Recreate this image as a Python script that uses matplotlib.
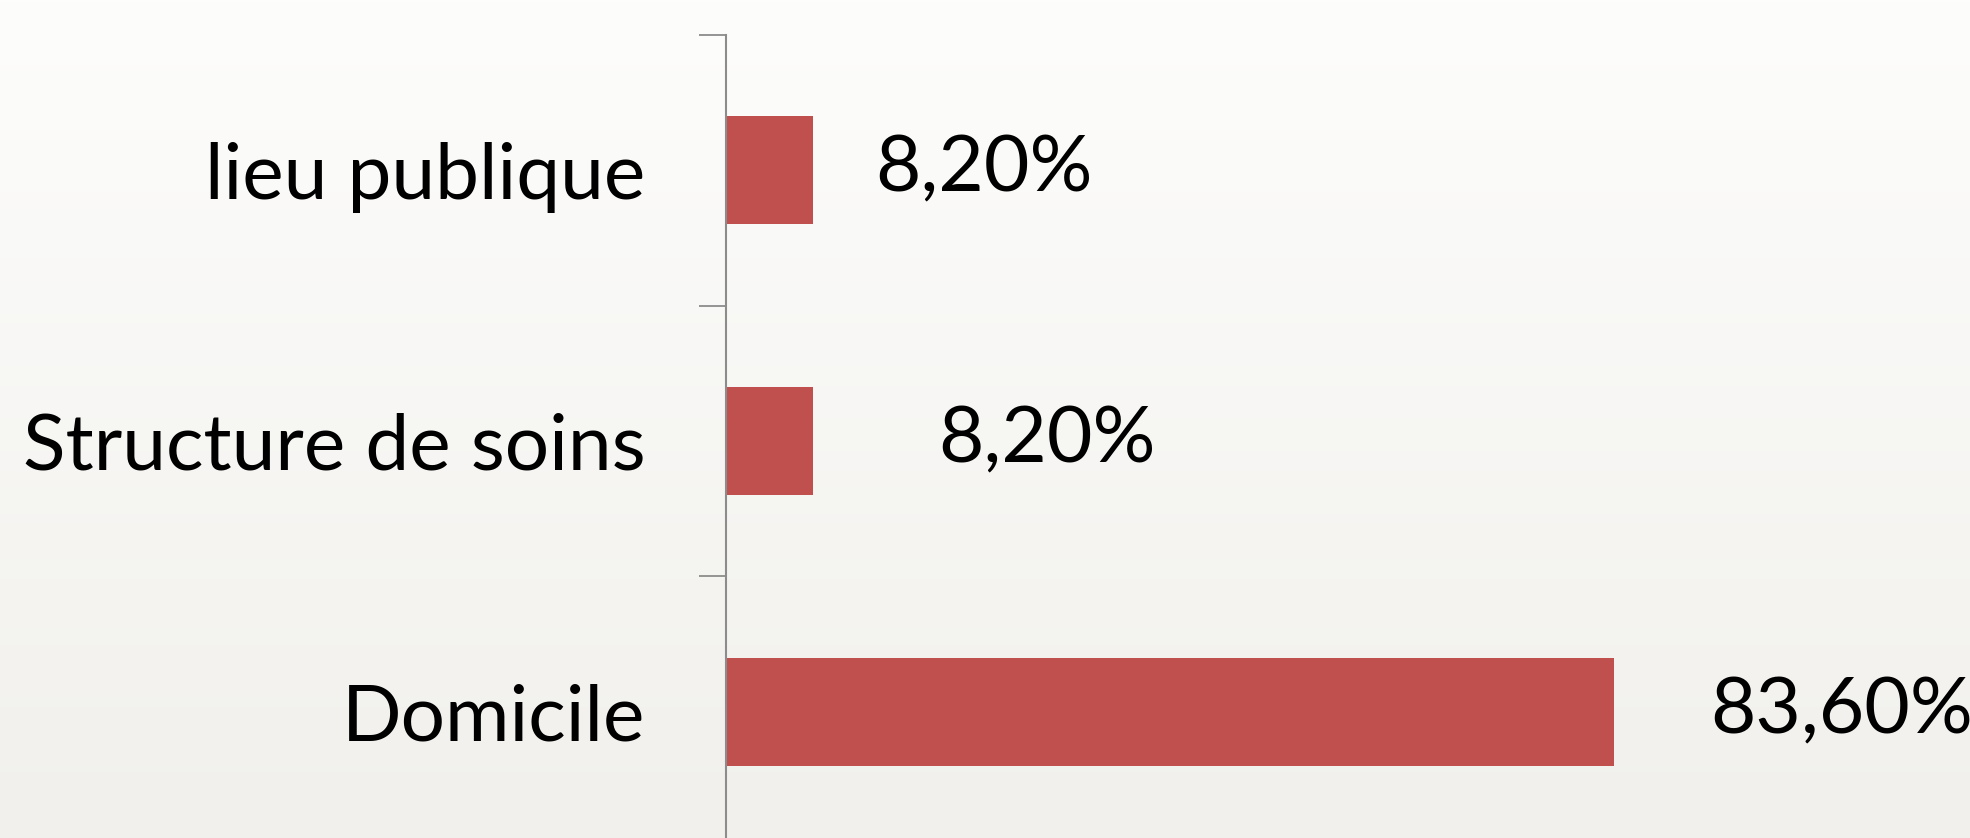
import matplotlib.pyplot as plt
import numpy as np
from matplotlib.colors import LinearSegmentedColormap

plt.rcParams['font.family'] = ['Lato', 'DejaVu Sans']

# données
lieux = ['lieu publique', 'Structure de soins', 'Domicile']
pourcentages = [8.2, 8.2, 83.6]
etiquettes = ['8,20%', '8,20%', '83,60%']
decalages = [62, 125, 96]  # décalage des étiquettes (pixels)

fig = plt.figure(figsize=(19.7, 8.38), dpi=100)

# fond en dégradé léger
bg = fig.add_axes([0, 0, 1, 1])
grad = np.linspace(0, 1, 256).reshape(-1, 1)
cmap = LinearSegmentedColormap.from_list('fond', ['#fdfdfc', '#f1f0ec'])
bg.imshow(grad, aspect='auto', cmap=cmap, extent=[0, 1, 0, 1])
bg.axis('off')

ax = fig.add_axes([726 / 1970, -9 / 838, 1 - 726 / 1970, 812 / 838])
ax.patch.set_alpha(0)

pos = np.arange(len(lieux))
ax.barh(pos, pourcentages, height=0.4, color='#c0504d')
ax.set_ylim(2.5, -0.5)
ax.set_xlim(0, (1970 - 726) / 10.62)

for p, v, t, d in zip(pos, pourcentages, etiquettes, decalages):
    ax.annotate(t, (v, p), xytext=(d * 0.72, 0), textcoords='offset points',
                va='center', ha='left', fontsize=56.5, color='black')

ax.set_yticks(pos)
ax.set_yticklabels(lieux, fontsize=56.5)
ax.tick_params(axis='y', which='major', length=0, pad=58)
ax.set_yticks([-0.5, 0.5, 1.5, 2.5], minor=True)
ax.tick_params(axis='y', which='minor', length=19.5, width=1.3, color='#8c8c8c', direction='out')
ax.set_xticks([])
for s in ['top', 'right', 'bottom']:
    ax.spines[s].set_visible(False)
ax.spines['left'].set_color('#8c8c8c')
ax.spines['left'].set_linewidth(1.5)

fig.savefig('out.png', dpi=100)
